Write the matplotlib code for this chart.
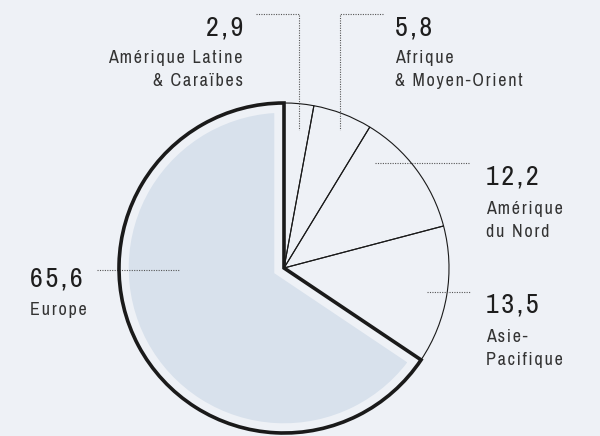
import matplotlib.pyplot as plt
from matplotlib import font_manager
from matplotlib.patches import Wedge

values = [2.9, 5.8, 12.2, 13.5, 65.6]
numbers = ['2,9', '5,8', '12,2', '13,5', '65,6']
names = ['Amérique Latine\n& Caraïbes', 'Afrique\n& Moyen-Orient',
         'Amérique\ndu Nord', 'Asie-\nPacifique', 'Europe']

BG = '#eef1f6'
FILL = '#d8e1ec'
H = 436
HAIR = '\u200a'


def spaced(s):
    # letter spacing like the original typesetting
    return HAIR.join(s)


# narrow font if one is around
avail = sorted(set(f.name for f in font_manager.fontManager.ttflist))
narrow = [n for n in avail if 'Narrow' in n or 'Condensed' in n]
fam = narrow[0] if narrow else 'DejaVu Sans'
plt.rcParams['font.family'] = [fam, 'DejaVu Sans']

fig = plt.figure(figsize=(6, 4.36), dpi=100, facecolor=BG)
ax = fig.add_axes([0, 0, 1, 1])

cx, cy, r = 284, H - 268, 165

wedges, _ = ax.pie(values, startangle=90, counterclock=False, center=(cx, cy),
                   radius=r, frame=True,
                   wedgeprops=dict(facecolor='none', edgecolor='#1a1a1a', linewidth=0.8))
ax.set_xlim(0, 600)
ax.set_ylim(0, H)
ax.set_aspect('equal')
ax.axis('off')

# europe: inset fill (bg coloured stroke) + thick outline
eu = wedges[-1]
inner = Wedge((cx, cy), r, eu.theta1, eu.theta2,
              facecolor=FILL, edgecolor=BG, linewidth=14, zorder=0.5)
ax.add_patch(inner)
eu.set_linewidth(2.6)
eu.set_zorder(3)

# leaders (pixel coords, y from top)
dot = dict(color='#555555', lw=0.8, linestyle=(0, (1, 1.2)))
ax.plot([256, 299, 299], [H - 14, H - 14, H - 130], **dot)
ax.plot([383, 340, 340], [H - 14, H - 14, H - 130], **dot)
ax.plot([375, 470], [H - 163, H - 163], **dot)
ax.plot([427, 470], [H - 292, H - 292], **dot)
ax.plot([97, 179], [H - 270, H - 270], **dot)

num_pos = [(243, 36, 'right'), (395, 36, 'left'), (486, 185, 'left'),
           (486, 313, 'left'), (30, 287, 'left')]
name_pos = [(243, 63), (395, 63), (486, 214), (486, 342), (30, 315)]

for i in range(len(values)):
    x, y, ha = num_pos[i]
    ax.text(x, H - y, spaced(numbers[i]), ha=ha, va='baseline', fontsize=20,
            color='#1e1e1e')
    nx, ny = name_pos[i]
    for j, line in enumerate(names[i].split('\n')):
        ax.text(nx, H - ny - 23 * j, spaced(line), ha=ha, va='baseline', fontsize=13,
                color='#333333')

fig.savefig('out.png', dpi=100, facecolor=BG)
